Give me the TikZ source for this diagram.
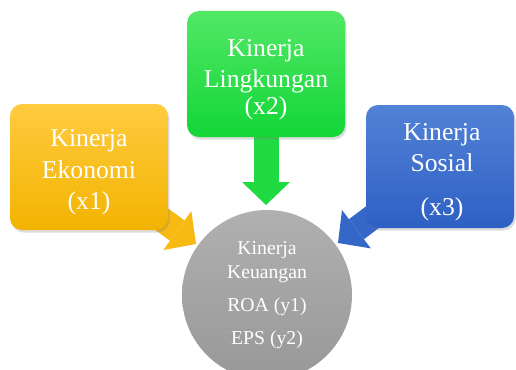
\documentclass[tikz,border=0pt]{standalone}
\usepackage{fontspec}
\setmainfont{Liberation Serif}
\usetikzlibrary{arrows.meta,shadows,backgrounds}

\definecolor{ekoAtas}{HTML}{FFCB40}
\definecolor{ekoBawah}{HTML}{F2B300}
\definecolor{lingAtas}{HTML}{52E866}
\definecolor{lingBawah}{HTML}{12D636}
\definecolor{sosAtas}{HTML}{5282D6}
\definecolor{sosBawah}{HTML}{2E60C4}
\definecolor{keuAtas}{HTML}{B0B0B0}
\definecolor{keuBawah}{HTML}{989898}

\tikzset{
  kotak/.style={rounded corners=12pt, minimum width=158pt, minimum height=126pt,
    drop shadow={opacity=0.28, shadow xshift=1.5pt, shadow yshift=-2.5pt}},
  teks/.style={align=center, text=white, font=\fontsize{25.7}{30.5}\selectfont},
  panah/.style={line width=25pt, -{Triangle[width=48pt,length=23pt,line width=0pt]}},
}

\begin{document}
\begin{tikzpicture}[x=1pt,y=-1pt]
    \useasboundingbox (0,0) rectangle (516,369);
    \clip (0,0) rectangle (516,369);

    % kotak variabel x
    \node[kotak, top color=ekoAtas, bottom color=ekoBawah] (eko) at (89,167) {};
    \node[teks] (ekoT) at (89,172) {Kinerja\\[2pt]Ekonomi\\(x1)};
    \node[kotak, top color=lingAtas, bottom color=lingBawah] (ling) at (266,74) {};
    \node[teks] (lingT) at (266,80) {Kinerja\\Lingkungan\\[-3pt](x2)};
    \node[kotak, minimum width=148pt, minimum height=123pt, top color=sosAtas,
      bottom color=sosBawah] (sos) at (440,166.5) {};
    \node[teks] (sosT) at (442,172.5) {Kinerja\\Sosial\\[14pt](x3)};

    % lingkaran variabel y
    \node[circle, minimum size=170pt, inner sep=0pt, top color=keuAtas,
      bottom color=keuBawah, text=white, align=center,
      font=\fontsize{19.7}{24}\selectfont] (keu) at (267,295)
      {Kinerja\\Keuangan\\[9pt]ROA (y1)\\[9pt]EPS (y2)};

    \coordinate (u1) at (196,244);
    \coordinate (u2) at (266,205);
    \coordinate (u3) at (338,243);

    \begin{scope}[on background layer]
      \draw[panah, draw=ekoBawah!70!ekoAtas] (eko.center) -- (u1);
      \draw[panah, draw=lingBawah!80!lingAtas] (ling.center) -- (u2);
      \draw[panah, draw=sosBawah!80!sosAtas] (sos.center) -- (u3);
    \end{scope}
  \end{tikzpicture}
\end{document}
